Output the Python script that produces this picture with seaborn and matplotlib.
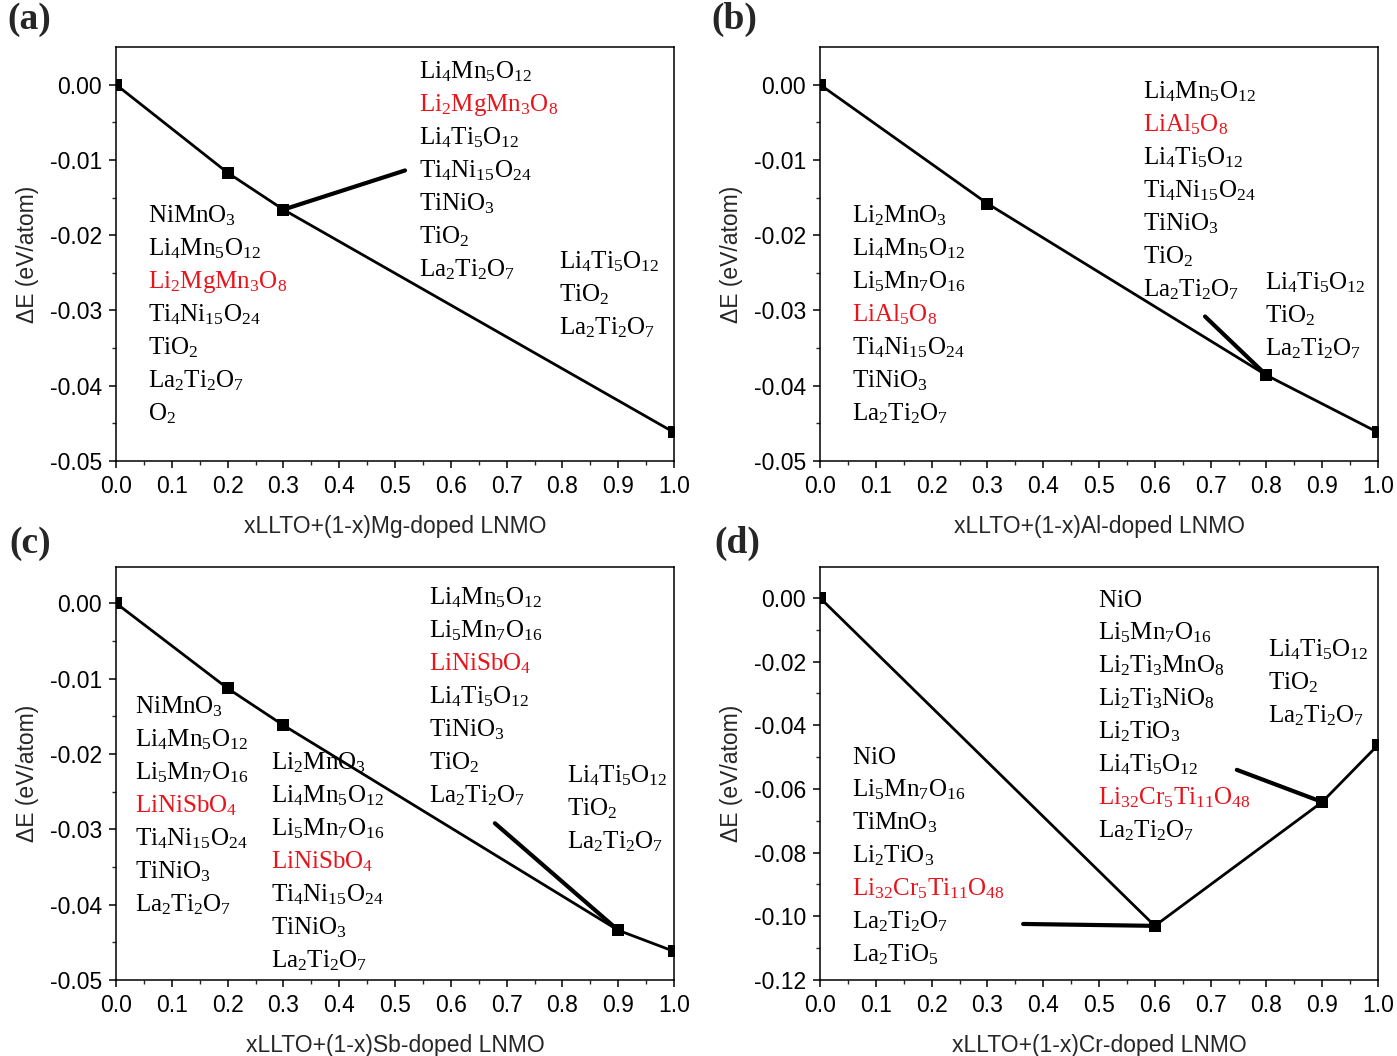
import matplotlib
matplotlib.use("Agg")
import matplotlib.pyplot as plt
import seaborn as sns
import pandas as pd
import numpy as np

# ---------------- data ----------------
x_a = [0.0, 0.2, 0.3, 1.0]
y_a = [0.0, -0.0117, -0.0166, -0.0462]
x_b = [0.0, 0.3, 0.8, 1.0]
y_b = [0.0, -0.0158, -0.0386, -0.0462]
x_c = [0.0, 0.2, 0.3, 0.9, 1.0]
y_c = [0.0, -0.0113, -0.0162, -0.0434, -0.0462]
x_d = [0.0, 0.6, 0.9, 1.0]
y_d = [0.0, -0.103, -0.0641, -0.0462]

xlabel_a = "xLLTO+(1-x)Mg-doped LNMO"
xlabel_b = "xLLTO+(1-x)Al-doped LNMO"
xlabel_c = "xLLTO+(1-x)Sb-doped LNMO"
xlabel_d = "xLLTO+(1-x)Cr-doped LNMO"
ylabel = "ΔE (eV/atom)"
panel_tags = ["(a)", "(b)", "(c)", "(d)"]

# phase lists: (formula, highlighted)
a_left = [("NiMnO_3", 0), ("Li_4Mn_5O_{12}", 0), ("Li_2MgMn_3O_8", 1),
          ("Ti_4Ni_{15}O_{24}", 0), ("TiO_2", 0), ("La_2Ti_2O_7", 0), ("O_2", 0)]
a_mid = [("Li_4Mn_5O_{12}", 0), ("Li_2MgMn_3O_8", 1), ("Li_4Ti_5O_{12}", 0),
         ("Ti_4Ni_{15}O_{24}", 0), ("TiNiO_3", 0), ("TiO_2", 0), ("La_2Ti_2O_7", 0)]
a_right = [("Li_4Ti_5O_{12}", 0), ("TiO_2", 0), ("La_2Ti_2O_7", 0)]

b_left = [("Li_2MnO_3", 0), ("Li_4Mn_5O_{12}", 0), ("Li_5Mn_7O_{16}", 0),
          ("LiAl_5O_8", 1), ("Ti_4Ni_{15}O_{24}", 0), ("TiNiO_3", 0), ("La_2Ti_2O_7", 0)]
b_mid = [("Li_4Mn_5O_{12}", 0), ("LiAl_5O_8", 1), ("Li_4Ti_5O_{12}", 0),
         ("Ti_4Ni_{15}O_{24}", 0), ("TiNiO_3", 0), ("TiO_2", 0), ("La_2Ti_2O_7", 0)]
b_right = [("Li_4Ti_5O_{12}", 0), ("TiO_2", 0), ("La_2Ti_2O_7", 0)]

c_left = [("NiMnO_3", 0), ("Li_4Mn_5O_{12}", 0), ("Li_5Mn_7O_{16}", 0),
          ("LiNiSbO_4", 1), ("Ti_4Ni_{15}O_{24}", 0), ("TiNiO_3", 0), ("La_2Ti_2O_7", 0)]
c_mid1 = [("Li_2MnO_3", 0), ("Li_4Mn_5O_{12}", 0), ("Li_5Mn_7O_{16}", 0),
          ("LiNiSbO_4", 1), ("Ti_4Ni_{15}O_{24}", 0), ("TiNiO_3", 0), ("La_2Ti_2O_7", 0)]
c_mid2 = [("Li_4Mn_5O_{12}", 0), ("Li_5Mn_7O_{16}", 0), ("LiNiSbO_4", 1),
          ("Li_4Ti_5O_{12}", 0), ("TiNiO_3", 0), ("TiO_2", 0), ("La_2Ti_2O_7", 0)]
c_right = [("Li_4Ti_5O_{12}", 0), ("TiO_2", 0), ("La_2Ti_2O_7", 0)]

d_left = [("NiO", 0), ("Li_5Mn_7O_{16}", 0), ("TiMnO_3", 0), ("Li_2TiO_3", 0),
          ("Li_{32}Cr_5Ti_{11}O_{48}", 1), ("La_2Ti_2O_7", 0), ("La_2TiO_5", 0)]
d_mid = [("NiO", 0), ("Li_5Mn_7O_{16}", 0), ("Li_2Ti_3MnO_8", 0), ("Li_2Ti_3NiO_8", 0),
         ("Li_2TiO_3", 0), ("Li_4Ti_5O_{12}", 0), ("Li_{32}Cr_5Ti_{11}O_{48}", 1),
         ("La_2Ti_2O_7", 0)]
d_right = [("Li_4Ti_5O_{12}", 0), ("TiO_2", 0), ("La_2Ti_2O_7", 0)]

# ---------------- style ----------------
sns.set_theme(style="ticks")
plt.rcParams["font.family"] = ["Liberation Sans", "DejaVu Sans"]
plt.rcParams["axes.unicode_minus"] = False
plt.rcParams["mathtext.fontset"] = "custom"
plt.rcParams["mathtext.rm"] = "Liberation Serif"
plt.rcParams["mathtext.it"] = "Liberation Serif:italic"
plt.rcParams["mathtext.bf"] = "Liberation Serif:bold"

W, H = 1397, 1056
fig = plt.figure(figsize=(W / 100, H / 100), dpi=100)


def px_rect(l, r, t, b):
    return [l / W, 1 - b / H, (r - l) / W, (b - t) / H]


rects = [px_rect(116, 674, 47, 461), px_rect(820, 1378, 47, 461),
         px_rect(116, 674, 567, 980), px_rect(820, 1378, 567, 980)]

RED = "#e8141c"
LS = 0.0797
FS = 18


def block(ax, items, x0, y0):
    for i, (f, hl) in enumerate(items):
        ax.text(x0, y0 - i * LS, r"$\mathrm{" + f + "}$", transform=ax.transAxes,
                fontsize=FS, color=RED if hl else "black", ha="left", va="center")


def setup(ax, xs, ys, ylim, ystep, xlabel, leaders):
    df = pd.DataFrame({"x": xs, "y": ys})
    sns.lineplot(data=df, x="x", y="y", ax=ax, color="black", linewidth=2.0,
                 marker="s", markersize=8.8, markeredgewidth=0, sort=False)
    for (i, tx, ty) in leaders:
        ax.annotate("", xy=(xs[i], ys[i]), xytext=(tx, ty),
                    arrowprops=dict(arrowstyle="-", color="black", lw=3,
                                    shrinkA=0, shrinkB=0))
    ax.set_xlim(0, 1)
    ax.set_ylim(*ylim)
    ax.set_xticks([i / 10 for i in range(11)])
    ax.set_xticks([i / 20 for i in range(21)], minor=True)
    yt = np.round(np.arange(ylim[0], 0.0001, ystep), 4)
    ax.set_yticks(yt)
    ax.set_yticks(np.round(np.arange(ylim[0], 0.0001, ystep / 2), 5), minor=True)
    ax.xaxis.set_major_formatter(matplotlib.ticker.FormatStrFormatter("%.1f"))
    ax.yaxis.set_major_formatter(matplotlib.ticker.FormatStrFormatter("%.2f"))
    ax.tick_params(which="major", direction="out", length=5, width=1.1,
                   labelsize=16.5, pad=5, colors="black")
    ax.tick_params(which="minor", direction="out", length=3, width=1.0)
    for s in ax.spines.values():
        s.set_linewidth(1.1)
        s.set_color("black")
        s.set_visible(True)
    ax.set_xlabel(xlabel, fontsize=16.5, labelpad=12)
    ax.set_ylabel(ylabel, fontsize=16.5, labelpad=8)


axes = [fig.add_axes(r) for r in rects]

setup(axes[0], x_a, y_a, (-0.05, 0.005), 0.01, xlabel_a, [(2, 0.518, -0.0114)])
block(axes[0], a_left, 0.057, 0.592)
block(axes[0], a_mid, 0.543, 0.940)
block(axes[0], a_right, 0.794, 0.481)

setup(axes[1], x_b, y_b, (-0.05, 0.005), 0.01, xlabel_b, [(2, 0.69, -0.0308)])
block(axes[1], b_left, 0.057, 0.592)
block(axes[1], b_mid, 0.579, 0.891)
block(axes[1], b_right, 0.797, 0.430)

setup(axes[2], x_c, y_c, (-0.05, 0.0048), 0.01, xlabel_c, [(3, 0.679, -0.0292)])
block(axes[2], c_left, 0.034, 0.661)
block(axes[2], c_mid1, 0.278, 0.525)
block(axes[2], c_mid2, 0.561, 0.925)
block(axes[2], c_right, 0.808, 0.494)

setup(axes[3], x_d, y_d, (-0.12, 0.0097), 0.02, xlabel_d,
      [(1, 0.364, -0.1024), (2, 0.747, -0.054)])
block(axes[3], d_left, 0.057, 0.540)
block(axes[3], d_mid, 0.498, 0.920)
block(axes[3], d_right, 0.803, 0.799)

tag_pos = [(7, 2), (711, 2), (9, 526), (714, 526)]
for tag, (px, py) in zip(panel_tags, tag_pos):
    fig.text(px / W, 1 - py / H, tag, fontsize=27, fontweight="bold",
             family="Liberation Serif", ha="left", va="top")

fig.savefig("out.png", dpi=100, facecolor="white")
